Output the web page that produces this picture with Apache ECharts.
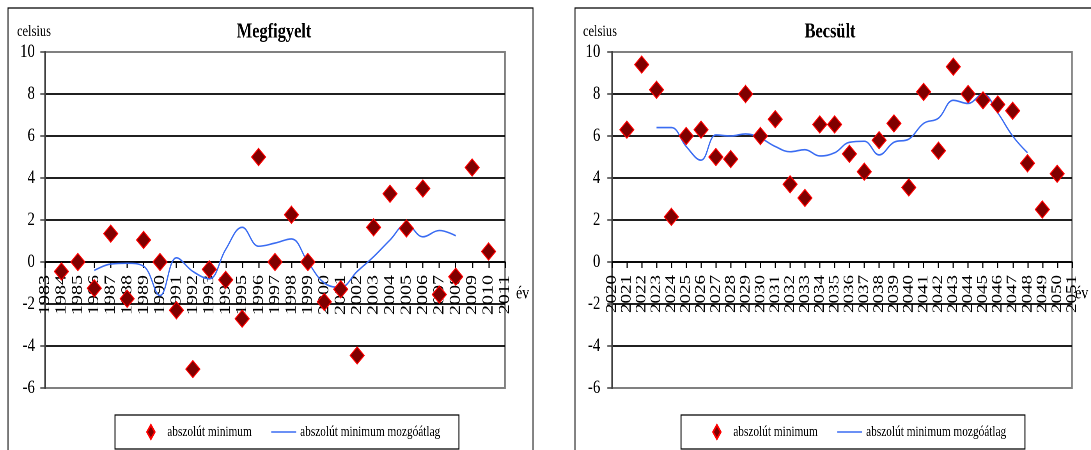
<!DOCTYPE html>
<html>
<head>
<meta charset="utf-8">
<script src="https://cdn.jsdelivr.net/npm/echarts@6/dist/echarts.min.js"></script>
<style>
html,body{margin:0;padding:0;background:#fff;overflow:hidden;width:1091px;height:450px}
#wrap{width:1091px;height:450px;overflow:hidden;position:relative;background:#fff}
#chart{position:absolute;left:0;top:0;width:1399px;height:450px;transform:scaleX(0.78);transform-origin:0 0}
</style>
</head>
<body>
<div id="wrap"><div id="chart"></div></div>
<script>
// ---------- data ----------
const obsYears = [1984,1985,1986,1987,1988,1989,1990,1991,1992,1993,1994,1995,1996,1997,1998,1999,2000,2001,2002,2003,2004,2005,2006,2007,2008,2009,2010];
const obsMin   = [-0.45,0,-1.25,1.35,-1.75,1.05,0,-2.3,-5.1,-0.35,-0.85,-2.7,5.0,0,2.25,0,-1.9,-1.3,-4.45,1.65,3.25,1.6,3.5,-1.55,-0.7,4.5,0.5];
const obsMaYears = [1986,1987,1988,1989,1990,1991,1992,1993,1994,1995,1996,1997,1998,1999,2000,2001,2002,2003,2004,2005,2006,2007,2008];
const obsMa      = [-0.4,-0.1,-0.06,-0.2,-1.6,0.2,-0.45,-0.8,0.6,1.65,0.75,0.9,1.1,0.0,-1.0,-1.2,-0.45,0.25,1.05,1.8,1.2,1.5,1.25];

const estYears = [2021,2022,2023,2024,2025,2026,2027,2028,2029,2030,2031,2032,2033,2034,2035,2036,2037,2038,2039,2040,2041,2042,2043,2044,2045,2046,2047,2048,2049,2050];
const estMin   = [6.3,9.4,8.2,2.15,6.0,6.3,5.0,4.9,8.0,6.0,6.8,3.7,3.05,6.55,6.55,5.15,4.3,5.8,6.6,3.55,8.1,5.3,9.3,8.0,7.7,7.5,7.2,4.7,2.5,4.2];
const estMaYears = [2023,2024,2025,2026,2027,2028,2029,2030,2031,2032,2033,2034,2035,2036,2037,2038,2039,2040,2041,2042,2043,2044,2045,2046,2047,2048];
const estMa      = [6.4,6.4,5.5,4.85,6.05,6.0,6.1,5.9,5.5,5.25,5.35,5.05,5.2,5.7,5.75,5.1,5.7,5.85,6.6,6.85,7.7,7.55,8.0,7.1,6.0,5.2];

const titles = ['Megfigyelt', 'Becsült'];
const yName = 'celsius';
const xName = 'év';
const seriesNames = ['abszolút minimum', 'abszolút minimum mozgóátlag'];
const xRanges = [[1983, 2011], [2020, 2051]];
const yRange = [-6, 10, 2];

// ---------- layout ----------
const S = 0.78;
const X = t => t / S;
const FONT = "'Liberation Serif', 'Times New Roman', serif";
const GRID_TOP = 52, GRID_H = 336;
const ZERO_OFFSET = -126; // zero line sits 126px above the grid bottom

const chart = echarts.init(document.getElementById('chart'), null, {renderer: 'canvas', devicePixelRatio: 2, width: 1399, height: 450});

function gridOf(l, r) {
  return {left: X(l), top: GRID_TOP, width: X(r) - X(l), height: GRID_H, show: true,
    borderColor: '#808080', borderWidth: 2, backgroundColor: 'transparent',
    containLabel: false, outerBoundsMode: 'none'};
}
function xAxisOf(i, fs) {
  return {type: 'value', gridIndex: i, min: xRanges[i][0], max: xRanges[i][1], interval: 1,
    position: 'bottom', offset: ZERO_OFFSET,
    axisLine: {show: true, onZero: false, lineStyle: {color: '#000', width: 1.8}},
    axisTick: {show: true, length: 6, lineStyle: {color: '#000', width: 1.5}},
    axisLabel: {rotate: 90, margin: 13, fontFamily: FONT, fontSize: fs, color: '#000',
      formatter: v => String(v), hideOverlap: false, showMinLabel: true, showMaxLabel: true},
    splitLine: {show: false}};
}
function yAxisOf(i, margin) {
  return {type: 'value', gridIndex: i, min: yRange[0], max: yRange[1], interval: yRange[2],
    axisLine: {show: true, onZero: false, lineStyle: {color: '#404040', width: 2}},
    axisTick: {show: true, length: 6, lineStyle: {color: '#404040', width: 1.5}},
    axisLabel: {margin: margin, fontFamily: FONT, fontSize: 19, color: '#000'},
    splitLine: {show: true, showMinLine: false, showMaxLine: false, lineStyle: {color: '#000', width: 1.8}}};
}
function scatterOf(i, yrs, vals) {
  return {type: 'scatter', name: seriesNames[0], xAxisIndex: i, yAxisIndex: i, z: 5,
    symbol: 'diamond', symbolSize: [18, 17],
    itemStyle: {color: '#800000', borderColor: '#ff0000', borderWidth: 1.2, opacity: 1},
    data: yrs.map((y, k) => [y, vals[k]])};
}
function lineOf(i, yrs, vals) {
  return {type: 'line', name: seriesNames[1], xAxisIndex: i, yAxisIndex: i, z: 3,
    smooth: 0.4, symbol: 'none', showSymbol: false,
    lineStyle: {color: '#3a6cf2', width: 1.6}, itemStyle: {color: '#3a6cf2'},
    data: yrs.map((y, k) => [y, vals[k]])};
}
function legendOf(l) {
  return {show: true, left: X(l), top: 415, orient: 'horizontal', selectedMode: false,
    itemWidth: 32, itemHeight: 14, itemGap: 25, padding: [9, 24, 9, 40],
    symbolKeepAspect: true,
    borderColor: '#000', borderWidth: 1.3, backgroundColor: '#fff',
    textStyle: {fontFamily: FONT, fontSize: 14.5, color: '#000'},
    data: [
      {name: seriesNames[0], icon: 'path://M5,0 L10,7 L5,14 L0,7 Z'},
      {name: seriesNames[1], icon: 'path://M0,0 L32,0 L32,1.6 L0,1.6 Z'}
    ]};
}
function textOf(x, y, t, size, weight, align) {
  return {type: 'text', x: x, y: y, silent: true,
    style: {text: t, fontFamily: FONT, fontSize: size, fontWeight: weight || 'normal', fill: '#000',
      align: align || 'left', verticalAlign: 'middle'}};
}

const option = {
  animation: false,
  backgroundColor: '#fff',
  grid: [gridOf(45, 505), gridOf(612, 1072)],
  xAxis: [xAxisOf(0, 20), xAxisOf(1, 19)],
  yAxis: [yAxisOf(0, 13), yAxisOf(1, 15)],
  legend: [legendOf(115), legendOf(681)],
  series: [
    lineOf(0, obsMaYears, obsMa), scatterOf(0, obsYears, obsMin),
    lineOf(1, estMaYears, estMa), scatterOf(1, estYears, estMin)
  ],
  graphic: [
    {type: 'rect', silent: true, shape: {x: X(8), y: 8, width: X(533) - X(8), height: 520},
      style: {fill: 'none', stroke: '#000', lineWidth: 1.2}},
    {type: 'rect', silent: true, shape: {x: X(575), y: 8, width: 1000, height: 520},
      style: {fill: 'none', stroke: '#000', lineWidth: 1.2}},
    textOf(X(17), 32, yName, 16),
    textOf(X(583), 32, yName, 16),
    textOf(X(274), 32, titles[0], 21, 'bold', 'center'),
    textOf(X(830), 32, titles[1], 21, 'bold', 'center'),
    textOf(X(516), 294, xName, 18),
    textOf(X(1075), 294, xName, 18)
  ]
};
chart.setOption(option);
</script>
</body>
</html>
